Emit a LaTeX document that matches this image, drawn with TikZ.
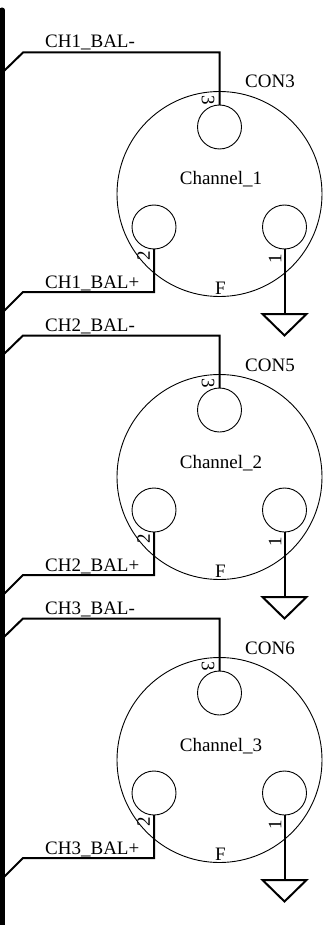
\documentclass[tikz,border=0pt]{standalone}
\usepackage{fontspec}
\usetikzlibrary{calc}
\setmainfont{Liberation Serif}
\tikzset{
  wire/.style={line width=2pt,line join=miter},
  bus/.style={line width=5pt,line cap=round},
  shell/.style={circle,draw,line width=0.9pt,inner sep=0pt,outer sep=0pt,minimum size=205pt},
  pin/.style={circle,draw,line width=0.9pt,inner sep=0pt,outer sep=0pt,minimum size=44pt},
  lbl/.style={inner sep=0pt,font=\fontsize{19}{19}\selectfont},
  pinup/.style={lbl,rotate=-90},
  pindown/.style={lbl,rotate=90},
}
\begin{document}
\begin{tikzpicture}[x=1pt,y=-1pt]
\useasboundingbox (0,0) rectangle (322,925);
\fill[white] (0,0) rectangle (322,925);
\coordinate (bustop) at (2,10);
\coordinate (busend) at (2,930);
\draw[bus] (bustop) -- (busend);
\foreach \i/\o/\c in {1/0/CON3,2/283/CON5,3/566/CON6}{
  \begin{scope}[shift={(0,\o)}]
    \node[shell] (s\i) at (219.5,194) {};
    \node[pin] (a\i) at (219.5,127) {};
    \node[pin] (b\i) at (154,227) {};
    \node[pin] (c\i) at (284.5,227) {};
    \coordinate (m\i) at (4,71);
    \coordinate (n\i) at (23,52.5);
    \coordinate (p\i) at (4,311);
    \coordinate (q\i) at (23,292);
    \coordinate (g\i) at (284.5,314);
    \draw[wire] (m\i) -- (n\i) -| (a\i.north);
    \draw[wire] (p\i) -- (q\i) -| (b\i.south);
    \draw[wire] (c\i.south) -- (g\i);
    \draw[wire] ($(g\i)+(-22,0)$) -- ($(g\i)+(22,0)$) -- ($(g\i)+(0,21.5)$) -- cycle;
    \node[lbl,anchor=base west] (t\i) at (45,48) {CH\i\_BAL-};
    \node[lbl,anchor=base west] (u\i) at (45,288) {CH\i\_BAL+};
    \node[lbl,anchor=base west] (v\i) at (245,88) {\c};
    \node[lbl,anchor=base] (w\i) at (221,185) {Channel\_\i};
    \node[lbl,anchor=base] (f\i) at (220.5,294) {F};
    \node[pinup] (x\i) at (208,100) {3};
    \node[pindown] (y\i) at (143.5,256) {2};
    \node[pindown] (z\i) at (275,258.5) {1};
  \end{scope}
}
\end{tikzpicture}
\end{document}
